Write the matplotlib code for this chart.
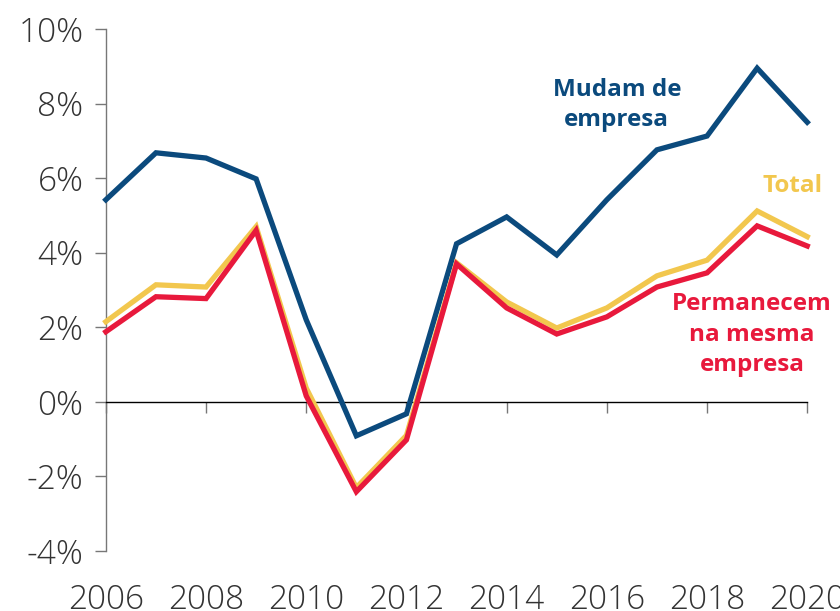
"""
Taxa de crescimento salarial: mudam de empresa vs permanecem
"""
import numpy as np
import matplotlib.pyplot as plt
from matplotlib.ticker import FuncFormatter

plt.rcParams['font.family'] = ['Open Sans', 'DejaVu Sans']

# Data
years = list(range(2006, 2021))
mudam = [5.42, 6.68, 6.54, 5.98, 2.2, -0.91, -0.32, 4.24, 4.96, 3.94, 5.42, 6.76, 7.13, 8.95, 7.5]
total = [2.15, 3.14, 3.08, 4.7, 0.37, -2.3, -0.9, 3.73, 2.68, 1.98, 2.52, 3.38, 3.8, 5.12, 4.43]
permanecem = [1.88, 2.82, 2.77, 4.6, 0.16, -2.41, -1.02, 3.7, 2.52, 1.82, 2.28, 3.08, 3.46, 4.72, 4.18]

BLUE = '#0b4a7d'
YELLOW = '#f2c74e'
RED = '#e8193c'

fig = plt.figure(figsize=(8.4, 6.11), dpi=100)
ax = fig.add_axes([0.126, 0.0982, 0.835, 0.8543])

ax.plot(years, mudam, color=BLUE, linewidth=3.8, solid_joinstyle='miter', clip_on=False, zorder=3)
ax.plot(years, total, color=YELLOW, linewidth=3.8, solid_joinstyle='miter', clip_on=False, zorder=3)
ax.plot(years, permanecem, color=RED, linewidth=3.8, solid_joinstyle='miter', clip_on=False, zorder=4)

ax.set_xlim(2006, 2020)
ax.set_ylim(-4, 10)
ax.set_yticks(np.arange(-4, 11, 2))
ax.yaxis.set_major_formatter(FuncFormatter(lambda v, p: f"{v:.0f}%"))
ax.set_xticks(range(2006, 2021, 2))

# Spines
ax.spines['top'].set_visible(False)
ax.spines['right'].set_visible(False)
ax.spines['left'].set_color('#777777')
ax.spines['left'].set_linewidth(1.0)
ax.spines['bottom'].set_position(('data', 0))
ax.spines['bottom'].set_color('black')
ax.spines['bottom'].set_linewidth(1.0)

ax.tick_params(axis='y', direction='out', length=8, width=1, color='#777777',
               labelsize=24, labelcolor='#333333', pad=8)
ax.tick_params(axis='x', direction='out', length=8, width=1, color='#777777',
               labelsize=24, labelcolor='#333333', pad=123)
for lbl in ax.get_xticklabels() + ax.get_yticklabels():
    lbl.set_fontweight('light')

# Series labels
ax.text(2016.2, 7.96, 'Mudam de\nempresa', color=BLUE, fontsize=17.5, fontweight='bold',
        ha='center', va='center', linespacing=1.35)
ax.text(2019.7, 5.8, 'Total', color=YELLOW, fontsize=17.5, fontweight='bold',
        ha='center', va='center')
ax.text(2018.9, 1.8, 'Permanecem\nna mesma\nempresa', color=RED, fontsize=17.5, fontweight='bold',
        ha='center', va='center', linespacing=1.35)

plt.savefig('out.png', dpi=100, facecolor='white')
plt.close()
